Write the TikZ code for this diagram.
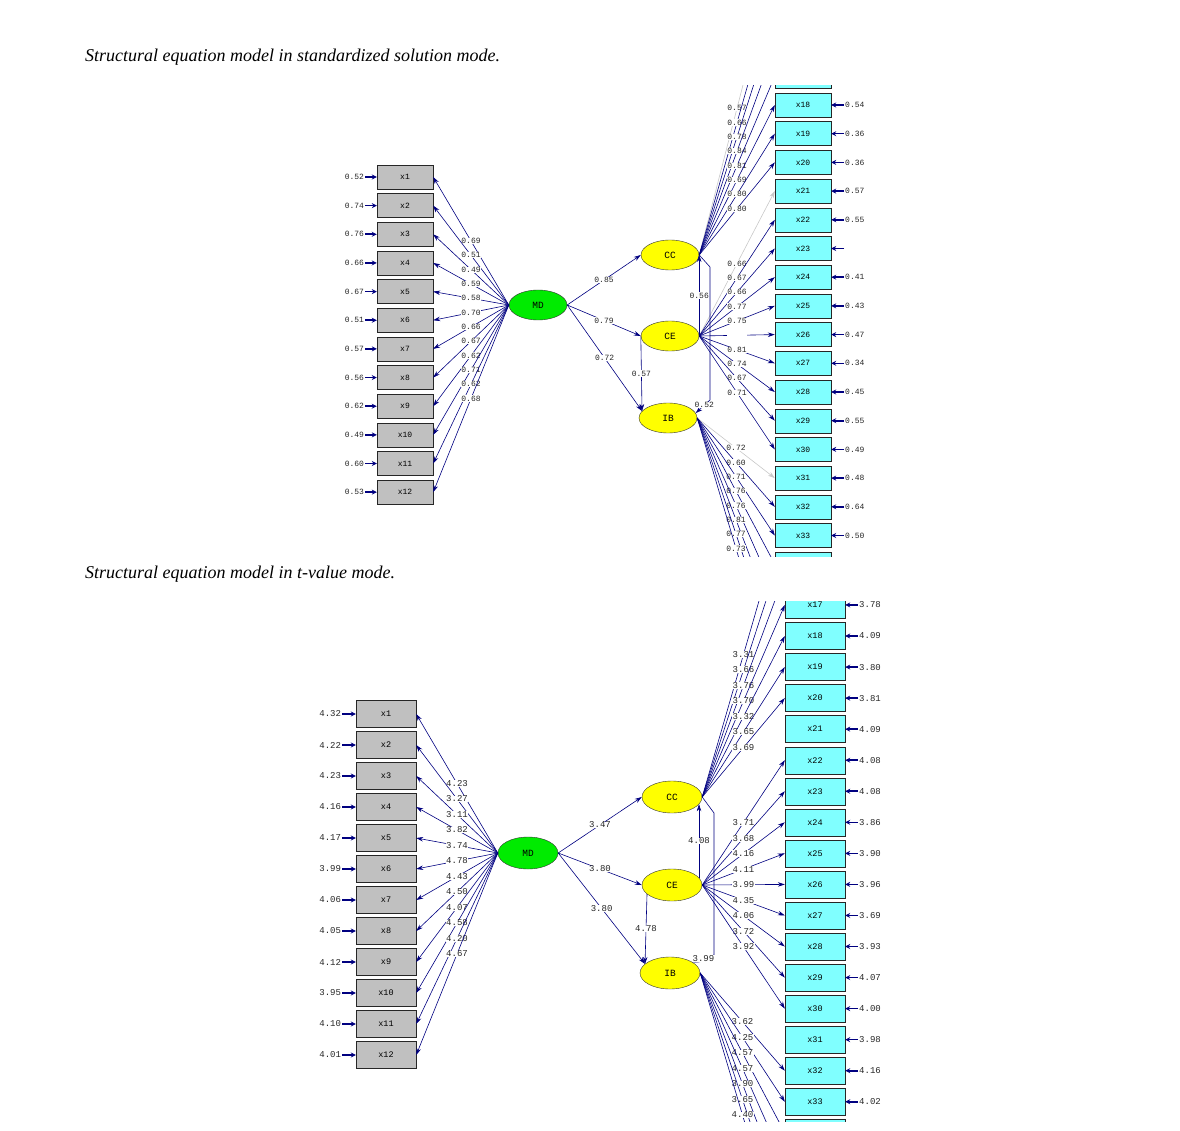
\documentclass[tikz,border=0pt]{standalone}
\usepackage{fontspec}
\setmainfont{Liberation Serif}
\newfontfamily\lisfont{Liberation Mono}
\usetikzlibrary{shapes.geometric,arrows.meta}

\definecolor{lisnavy}{RGB}{0,0,128}
\definecolor{lisbox}{RGB}{192,192,192}
\definecolor{liscyan}{RGB}{128,255,255}
\definecolor{lisgreen}{RGB}{0,235,0}
\definecolor{lisyellow}{RGB}{255,255,0}
\definecolor{lisfixed}{RGB}{200,200,200}

\tikzset{
  xbox/.style={rectangle, draw=black!85, fill=lisbox, minimum width=56pt, minimum height=24pt, inner sep=0pt, font=\lisfont\fontsize{8}{9}\selectfont},
  ybox/.style={xbox, fill=liscyan},
  latent/.style={ellipse, draw=black!80, minimum width=58pt, minimum height=30pt, inner sep=0pt, font=\lisfont\fontsize{9.5}{10}\selectfont},
  lab/.style={fill=white, text=black!85, inner sep=0.4pt, font=\lisfont\fontsize{8}{9}\selectfont},
  errlab/.style={text=black!85, inner sep=0.8pt, font=\lisfont\fontsize{8}{9}\selectfont},
  loadarr/.style={lisnavy, line width=0.6pt, -{Stealth[length=7pt,width=4.5pt]}},
  fixarr/.style={loadarr, lisfixed},
  errarr/.style={lisnavy, line width=1.6pt, -{Stealth[length=5pt,width=5pt]}},
}

\begin{document}
\begin{tikzpicture}[x=1pt,y=-1pt]
\useasboundingbox (0,0) rectangle (1180,1131);

% captions
\node[anchor=base west, inner sep=0pt, font=\itshape\fontsize{18}{21}\selectfont] (capsd) at (85,62) {Structural equation model in standardized solution mode.};
\node[anchor=base west, inner sep=0pt, font=\itshape\fontsize{18}{21}\selectfont] (capt) at (85,578) {Structural equation model in t-value mode.};

% ---- standardized solution
\begin{scope}
\clip (320,86) rectangle (900,556);
\node[latent, fill=lisgreen] (sMD) at (538,305) {MD};
\node[latent, fill=lisyellow] (sCC) at (670,255) {CC};
\node[latent, fill=lisyellow] (sCE) at (670,336) {CE};
\node[latent, fill=lisyellow] (sIB) at (668,418) {IB};
% x block
\foreach \i/\e/\l in {1/0.52/0.69,2/0.74/0.51,3/0.76/0.49,4/0.66/0.59,5/0.67/0.58,6/0.51/0.70,7/0.57/0.66,8/0.56/0.67,9/0.62/0.62,10/0.49/0.71,11/0.60/0.62,12/0.53/0.68}{
  \pgfmathsetmacro\yy{177+(\i-1)*28.65}
  \node[xbox] (sx\i) at (405,\yy) {x\i};
  \node[errlab, anchor=east] (se\i) at (365,\yy) {\e};
  \draw[errarr] (se\i) -- (sx\i);
  \draw[loadarr] (sMD.west) -- node[lab]{\l} (sx\i.east);
}
% y block (boxes out of the frame carry no text)
\foreach \k in {13,...,17,34,35,...,38}{
  \pgfmathsetmacro\yy{105+(\k-18)*28.7}
  \node[ybox] (sy\k) at (803,\yy) {};
}
\foreach \k in {18,...,33}{
  \pgfmathsetmacro\yy{105+(\k-18)*28.7}
  \node[ybox] (sy\k) at (803,\yy) {x\k};
}
\foreach \k/\e in {18/0.54,19/0.36,20/0.36,21/0.57,22/0.55,24/0.41,25/0.43,26/0.47,27/0.34,28/0.45,29/0.55,30/0.49,31/0.48,32/0.64,33/0.50}{
  \node[errlab, anchor=west] (sd\k) at ([xshift=13pt]sy\k.east) {\e};
  \draw[errarr] (sd\k) -- (sy\k);
}
\coordinate (sd23) at ([xshift=13pt]sy23.east);
\draw[errarr] (sd23) -- (sy23);
% loadings
\draw[fixarr] (sCC.east) -- node[lab]{0.57} (sy13.west);
\foreach \k/\l in {14/0.66,15/0.78,16/0.84,17/0.81,18/0.69,19/0.80,20/0.80}
  \draw[loadarr] (sCC.east) -- node[lab]{\l} (sy\k.west);
\draw[fixarr] (sCE.east) -- node[lab]{0.66} (sy21.west);
\foreach \k/\l in {22/0.67,23/0.66,24/0.77,25/0.75,26/\phantom{0.73},27/0.81,28/0.74,29/0.67,30/0.71}
  \draw[loadarr] (sCE.east) -- node[lab]{\l} (sy\k.west);
\draw[fixarr] (sIB.east) -- node[lab]{0.72} (sy31.west);
\foreach \k/\l in {32/0.60,33/0.71,34/0.76,35/0.76,36/0.81,37/0.77,38/0.73}
  \draw[loadarr] (sIB.east) -- node[lab]{\l} (sy\k.west);
% structural part
\draw[loadarr] (sMD.east) -- node[lab]{0.85} (sCC.west);
\draw[loadarr] (sMD.east) -- node[lab]{0.79} (sCE.west);
\draw[loadarr] (sMD.east) -- node[lab]{0.72} (sIB.165);
\draw[loadarr] (sCE.west) -- node[lab]{0.57} (sIB.165);
\draw[loadarr] (sCE.east) -- node[lab]{0.56} (sCC.east);
\coordinate (sk1) at (710,267);
\coordinate (sk2) at (710,400);
\draw[loadarr] (sCC.east) -- (sk1) -- (sk2) -- node[lab, pos=0.4]{0.52} (sIB.10);
\end{scope}

% ---- t-values
\begin{scope}[xbox/.append style={minimum width=60pt, minimum height=27pt, font=\lisfont\fontsize{8.5}{9}\selectfont},
  latent/.append style={minimum width=60pt, minimum height=32pt},
  lab/.append style={font=\lisfont\fontsize{9}{10}\selectfont},
  errlab/.append style={font=\lisfont\fontsize{9}{10}\selectfont}]
\clip (300,601) rectangle (900,1121);
\node[latent, fill=lisgreen] (tMD) at (528,853) {MD};
\node[latent, fill=lisyellow] (tCC) at (672,797) {CC};
\node[latent, fill=lisyellow] (tCE) at (672,885) {CE};
\node[latent, fill=lisyellow] (tIB) at (670,973) {IB};
% x block
\foreach \i/\e/\l in {1/4.32/4.23,2/4.22/3.27,3/4.23/3.11,4/4.16/3.82,5/4.17/3.74,6/3.99/4.78,7/4.06/4.43,8/4.05/4.50,9/4.12/4.07,10/3.95/4.58,11/4.10/4.20,12/4.01/4.67}{
  \pgfmathsetmacro\yy{714+(\i-1)*31}
  \node[xbox] (tx\i) at (386,\yy) {x\i};
  \node[errlab, anchor=east] (te\i) at (342,\yy) {\e};
  \draw[errarr] (te\i) -- (tx\i);
  \draw[loadarr] (tMD.west) -- node[lab]{\l} (tx\i.east);
}
% y block (boxes out of the frame carry no text)
\foreach \k in {13,...,16,34,35,...,38}{
  \pgfmathsetmacro\yy{636+(\k-18)*31.05}
  \node[ybox] (ty\k) at (815,\yy) {};
}
\foreach \k in {17,...,33}{
  \pgfmathsetmacro\yy{636+(\k-18)*31.05}
  \node[ybox] (ty\k) at (815,\yy) {x\k};
}
\foreach \k/\e in {17/3.78,18/4.09,19/3.80,20/3.81,21/4.09,22/4.08,23/4.08,24/3.86,25/3.90,26/3.96,27/3.69,28/3.93,29/4.07,30/4.00,31/3.98,32/4.16,33/4.02}{
  \node[errlab, anchor=west] (td\k) at ([xshift=13pt]ty\k.east) {\e};
  \draw[errarr] (td\k) -- (ty\k);
}
% loadings
\foreach \k/\l in {14/3.31,15/3.66,16/3.76,17/3.70,18/3.32,19/3.65,20/3.69}
  \draw[loadarr] (tCC.east) -- node[lab]{\l} (ty\k.west);
\foreach \k/\l in {22/3.71,23/3.68,24/4.16,25/4.11,26/3.99,27/4.35,28/4.06,29/3.72,30/3.92}
  \draw[loadarr] (tCE.east) -- node[lab]{\l} (ty\k.west);
\foreach \k/\l in {32/3.62,33/4.25,34/4.57,35/4.57,36/3.90,37/3.65,38/4.40}
  \draw[loadarr] (tIB.east) -- node[lab]{\l} (ty\k.west);
% structural part
\draw[loadarr] (tMD.east) -- node[lab]{3.47} (tCC.west);
\draw[loadarr] (tMD.east) -- node[lab]{3.80} (tCE.west);
\draw[loadarr] (tMD.east) -- node[lab]{3.80} (tIB.160);
\draw[loadarr] (tCE.200) -- node[lab]{4.78} (tIB.160);
\draw[loadarr] (tCE.15) -- node[lab]{4.08} (tCC.-15);
\coordinate (tk1) at (714,813);
\coordinate (tk2) at (714,955);
\draw[loadarr] (tCC.east) -- (tk1) -- (tk2) -- node[lab, pos=0.5]{3.99} (tIB.25);
\end{scope}
\end{tikzpicture}
\end{document}
